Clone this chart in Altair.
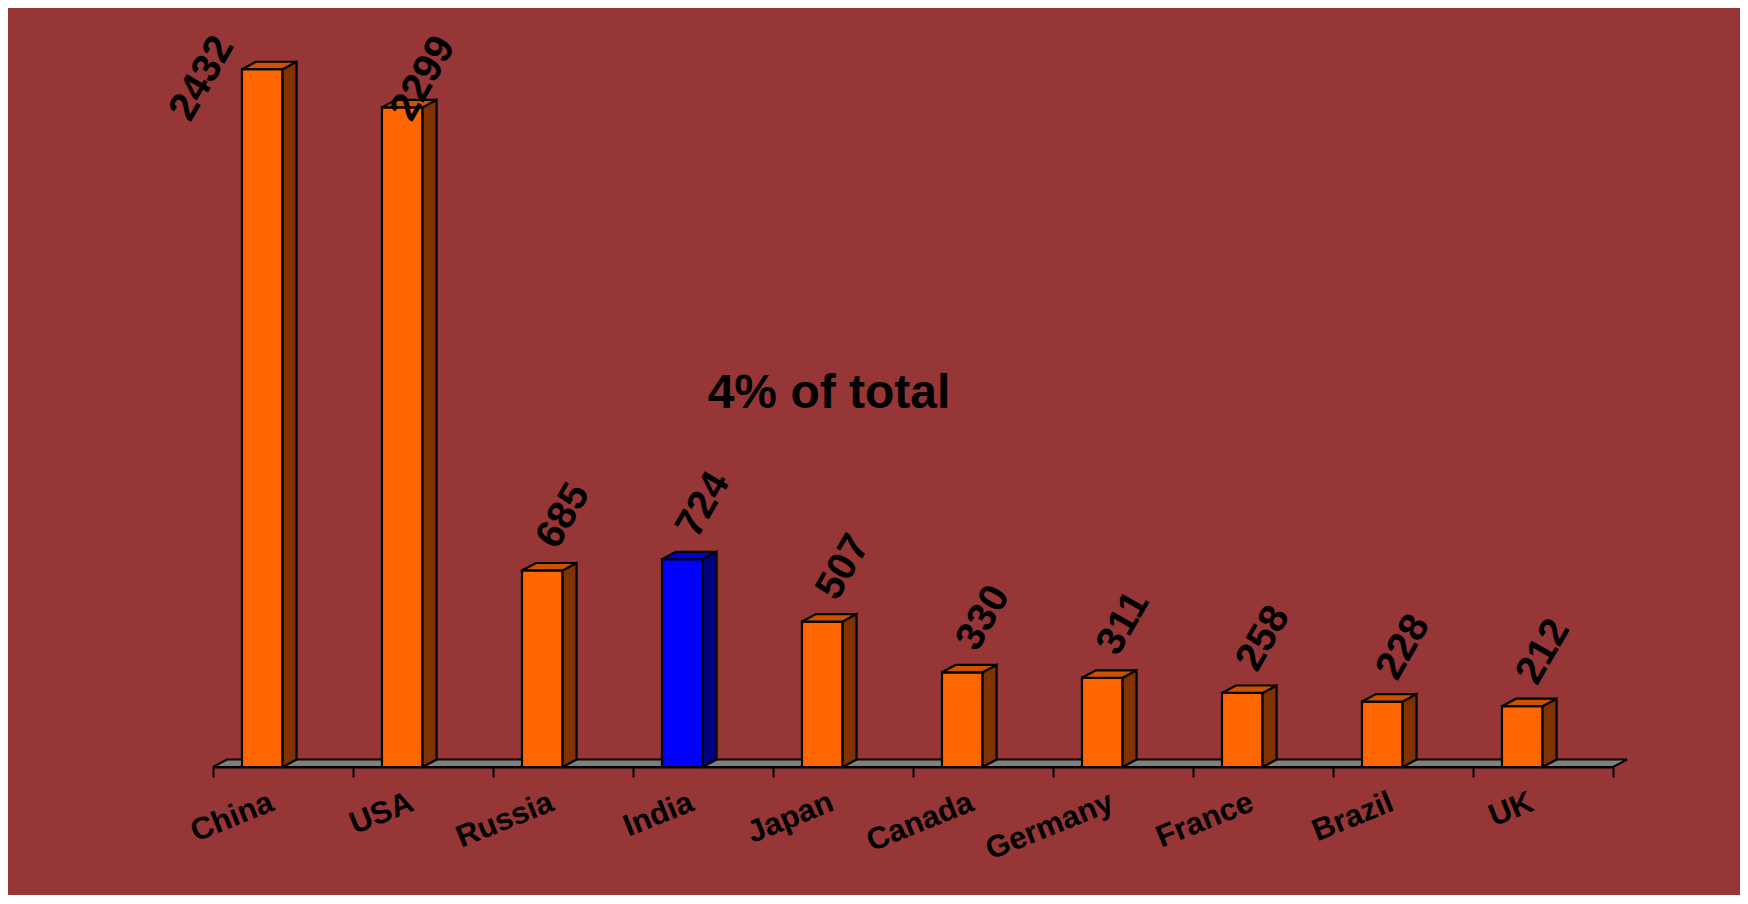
import json
import altair as alt
import pandas as pd

# ---------------- data ----------------
countries = ["China", "USA", "Russia", "India", "Japan", "Canada",
             "Germany", "France", "Brazil", "UK"]
values = [2432, 2299, 685, 724, 507, 330, 311, 258, 228, 212]
highlight = ["India"]
annotation = ["4% of total"]

# ---------------- styles / geometry (slot units on x, value units on y) ----------------
FONT = "Liberation Sans, Arial, sans-serif"
BG = "#963636"
FRONT_O, TOP_O, SIDE_O = "#FF6600", "#CC5200", "#803300"
FRONT_B, TOP_B, SIDE_B = "#0000FF", "#0000CC", "#000080"
FL, FR = 0.207, 0.497       # front face left/right inside a slot
DX, DY = 0.10, 26           # 3-D depth offsets
LABEL_GAP, LABEL_CAP = 190, 2400
N = len(countries)

df = pd.DataFrame({"country": countries, "value": values})
df["idx"] = range(N)
df["hl"] = df["country"].isin(highlight)

x_scale = alt.Scale(domain=[0, N], nice=False, zero=False)
y_scale = alt.Scale(domain=[0, 2600], nice=False, zero=False)

label_expr = "datum.value < %d ? %s[datum.value] : ''" % (N, json.dumps(countries))
x_axis = alt.Axis(values=list(range(N + 1)), labelExpr=label_expr, title=None,
                  grid=False, labelAngle=-22, labelAlign="right", labelBaseline="top",
                  labelOffset=53, labelPadding=10, labelFont=FONT, labelFontSize=31,
                  labelFontWeight="bold", labelColor="black", labelFlush=False,
                  labelOverlap=False, labelBound=False,
                  tickSize=10, tickWidth=2, tickColor="black",
                  domain=True, domainColor="black", domainWidth=2)


def X(field):
    return alt.X(field, type="quantitative", scale=x_scale, axis=x_axis)


def Y(field):
    return alt.Y(field, type="quantitative", scale=y_scale, axis=None, stack=None)


def fill(front, other):
    return alt.condition("datum.hl", alt.value(front), alt.value(other))


base = alt.Chart(df)

# floor (parallelogram)
floor = (
    alt.Chart(pd.DataFrame({"n": [N]}))
    .transform_calculate(k="[0,1,2,3]")
    .transform_flatten(["k"])
    .transform_calculate(
        fx=f"(datum.k < 2 ? 0 : datum.n) + (datum.k % 2) * {DX}",
        fy0=f"datum.k == 3 ? {DY} : 0",
        fy1=f"datum.k == 0 ? 0 : {DY}",
    )
    .mark_area(orient="vertical", fill="#808080", stroke="black", strokeWidth=2,
               strokeJoin="miter")
    .encode(x=X("fx"), y=Y("fy0"), y2="fy1:Q")
)

front = (
    base.transform_calculate(x0=f"datum.idx + {FL}", x1=f"datum.idx + {FR}", y0="0")
    .mark_rect(stroke="black", strokeWidth=2.2, strokeJoin="miter")
    .encode(x=X("x0"), x2="x1:Q", y=Y("y0"), y2="value:Q",
            fill=fill(FRONT_B, FRONT_O))
)

side = (
    base.transform_calculate(k="[0,1]")
    .transform_flatten(["k"])
    .transform_calculate(
        sx=f"datum.idx + {FR} + datum.k * {DX}",
        sy0=f"datum.k * {DY}",
        sy1=f"datum.value + datum.k * {DY}",
    )
    .mark_area(orient="vertical", stroke="black", strokeWidth=2.2, strokeJoin="miter")
    .encode(x=X("sx"), y=Y("sy0"), y2="sy1:Q", detail="country:N",
            fill=fill(SIDE_B, SIDE_O))
)

top = (
    base.transform_calculate(k="[0,1,2,3]")
    .transform_flatten(["k"])
    .transform_calculate(
        tx=f"datum.idx + (datum.k < 2 ? {FL} : {FR}) + (datum.k % 2) * {DX}",
        ty0=f"datum.value + (datum.k == 3 ? {DY} : 0)",
        ty1=f"datum.value + (datum.k == 0 ? 0 : {DY})",
    )
    .mark_area(orient="vertical", stroke="black", strokeWidth=2.2, strokeJoin="miter")
    .encode(x=X("tx"), y=Y("ty0"), y2="ty1:Q", detail="country:N",
            fill=fill(TOP_B, TOP_O))
)

labels = (
    base.transform_calculate(
        lx=f"datum.idx + {(FL + FR) / 2} + (datum.value > {LABEL_CAP} ? -0.43 : 0.15)",
        ly=f"min(datum.value + {LABEL_GAP}, {LABEL_CAP})",
    )
    .mark_text(angle=300, align="center", baseline="middle", font=FONT,
               fontSize=40, fontWeight="bold", color="black")
    .encode(x=X("lx"), y=Y("ly"), text="value:Q")
)

note = (
    alt.Chart(pd.DataFrame({"t": annotation}))
    .mark_text(align="center", baseline="middle", font=FONT, fontSize=48,
               fontWeight="bold", color="black")
    .encode(x=alt.X(datum=4.4, type="quantitative", scale=x_scale, axis=x_axis),
            y=alt.Y(datum=1300, type="quantitative", scale=y_scale, axis=None),
            text="t:N")
)

chart = (
    alt.layer(floor, front, side, top, labels, note)
    .properties(width=1400, height=746,
                padding={"left": 205, "top": 13, "right": 127, "bottom": 128},
                autosize=alt.AutoSizeParams(type="none"),
                background=BG)
    .configure_view(stroke=None)
)

chart.save("out.html", embed_options={"renderer": "svg", "actions": False})
